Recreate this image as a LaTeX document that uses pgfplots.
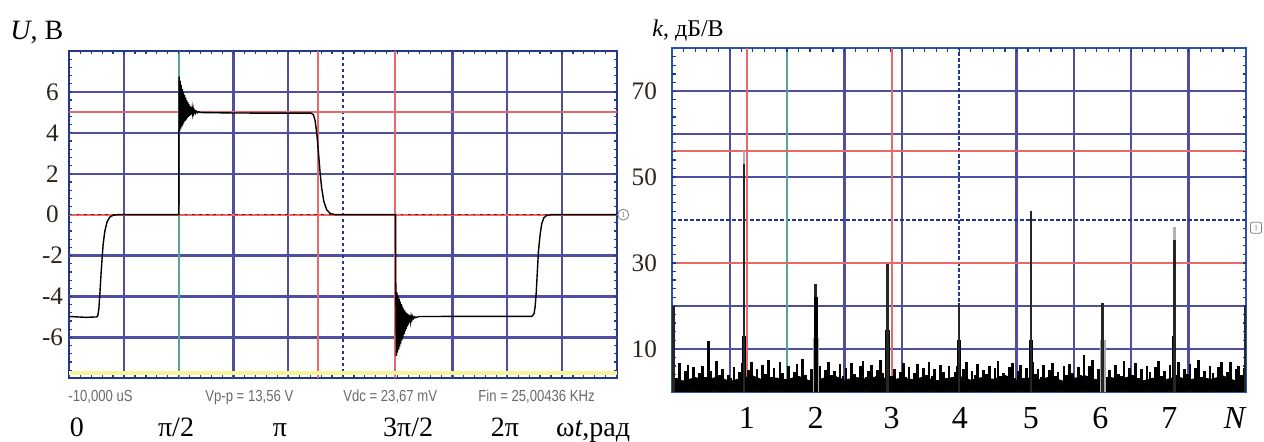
\documentclass[border=0pt]{standalone}
\usepackage{fontspec}
\setmainfont{Liberation Serif}
\newfontfamily\scopefont{Liberation Sans}
\usepackage{graphicx}
\usepackage{pgfplots}
\pgfplotsset{compat=1.18}

\definecolor{gridblue}{RGB}{78,78,162}
\definecolor{gridred}{RGB}{232,105,105}
\definecolor{gridcyan}{RGB}{85,165,155}
\definecolor{frameblue}{RGB}{35,55,140}
\definecolor{frameblue2}{RGB}{40,85,170}
\definecolor{scopeyellow}{RGB}{246,246,150}
\definecolor{lbl}{RGB}{45,35,25}
\definecolor{scopegray}{RGB}{105,105,105}

\tikzset{
  gb/.style={gridblue, line width=1.15bp},
  gr/.style={gridred, line width=0.9bp},
  gc/.style={gridcyan, line width=0.8bp},
  gd/.style={frameblue, line width=1bp, dash pattern=on 1.6bp off 1.4bp},
  bt/.style={frameblue, line width=0.6bp},
  scopetxt/.style={anchor=base west, inner sep=0pt, text=scopegray, font=\scopefont\fontsize{8bp}{9bp}\selectfont},
}

\begin{document}
\begin{tikzpicture}
\path[use as bounding box] (0,0) rectangle (632bp,221bp);

% ---------------- left panel: waveform ----------------
\begin{axis}[
  scale only axis, anchor=south west, at={(34.65bp,31.85bp)},
  width=273.7bp, height=163.65bp,
  xmin=0, xmax=10, ymin=-8, ymax=8, clip=false,
  axis line style={frameblue, line width=1.1bp},
  major tick length=0pt,
  xtick={0.14,1.95,3.85,6.19,7.96},
  xticklabels={0,π/2,π,3π/2,2π},
  xticklabel style={anchor=base, yshift=-28.85bp, font=\fontsize{14bp}{16bp}\selectfont, text=black},
  ytick={-6,-4,-2,0,2,4,6},
  yticklabel style={anchor=center, xshift=-8.4bp, font=\fontsize{12.6bp}{14bp}\selectfont, text=lbl},
  /pgf/number format/assume math mode=true,
]
% graticule
\pgfplotsinvokeforeach{1,3,4,7,8,9}{\draw[gb] (axis cs:#1,-8) -- (axis cs:#1,8);}
\pgfplotsinvokeforeach{-6,-4,-2,2,4,6}{\draw[gb] (axis cs:0,#1) -- (axis cs:10,#1);}
\draw[gd] (axis cs:5,-8) -- (axis cs:5,8);
\draw[gc] (axis cs:2,-8) -- (axis cs:2,8);
\draw[gr] (axis cs:4.55,-8) -- (axis cs:4.55,8);
\draw[gr] (axis cs:5.95,-8) -- (axis cs:5.95,8);
\draw[gr] (axis cs:0,5) -- (axis cs:10,5);
\draw[gr] (axis cs:0,0) -- (axis cs:10,0);
\draw[red!60!black, line width=0.7bp, dash pattern=on 1.4bp off 2.2bp] (axis cs:0,0) -- (axis cs:10,0);
\draw[scopeyellow, line width=2.2bp] (axis cs:0,-7.75) -- (axis cs:10,-7.75);
\pgfplotsinvokeforeach{0.2,0.4,...,9.8}{\draw[bt] (axis cs:#1,-8) -- (axis cs:#1,-7.84); \draw[bt] (axis cs:#1,8) -- (axis cs:#1,7.84);}
\pgfplotsinvokeforeach{-7.6,-7.2,...,7.6}{\draw[bt] (axis cs:0,#1) -- (axis cs:0.058,#1); \draw[bt] (axis cs:10,#1) -- (axis cs:9.942,#1);}

% trace
\addplot[black, line width=0.7bp] coordinates {
(0,-4.98)(0.3,-5.02)(0.5,-5)(0.52,-4.95)(0.54,-4.6)(0.56,-3.8)(0.58,-2.9)(0.60,-2.1)(0.62,-1.4)(0.65,-0.8)(0.69,-0.35)(0.74,-0.12)(0.80,-0.03)(0.88,0)(2.0,0)
(2.005,6.75)(2.015,4.10)(2.025,6.55)(2.035,4.20)(2.045,6.35)(2.055,4.30)(2.065,6.15)(2.075,4.40)(2.085,6.00)(2.095,4.50)
(2.105,5.85)(2.115,4.58)(2.125,5.72)(2.135,4.65)(2.145,5.60)(2.155,4.72)(2.165,5.50)(2.175,4.78)(2.185,5.40)(2.195,4.83)
(2.205,5.32)(2.215,4.87)(2.225,5.25)(2.235,4.90)(2.245,5.18)(2.255,4.93)(2.265,5.13)(2.275,4.95)(2.290,5.09)(2.305,4.97)
(2.320,5.06)(2.340,4.98)(2.360,5.03)(2.390,5.0)(2.45,4.99)(3.0,4.97)(4.0,4.96)(4.42,4.96)
(4.46,4.88)(4.49,4.6)(4.52,4.0)(4.55,3.1)(4.58,2.1)(4.61,1.3)(4.65,0.65)(4.70,0.25)(4.76,0.07)(4.85,0)(5.96,0)
(5.965,-3.70)(5.975,-6.90)(5.985,-3.80)(5.995,-6.75)(6.005,-3.95)(6.015,-6.60)(6.025,-4.10)(6.035,-6.45)(6.045,-4.25)(6.055,-6.30)
(6.065,-4.38)(6.075,-6.15)(6.085,-4.50)(6.095,-6.00)(6.105,-4.60)(6.115,-5.85)(6.125,-4.68)(6.135,-5.70)(6.145,-4.75)(6.155,-5.58)
(6.165,-4.81)(6.175,-5.47)(6.185,-4.86)(6.195,-5.37)(6.205,-4.90)(6.215,-5.28)(6.225,-4.93)(6.235,-5.20)(6.245,-4.95)(6.26,-5.13)
(6.275,-4.97)(6.29,-5.08)(6.31,-4.99)(6.33,-5.04)(6.36,-5.0)(6.40,-4.98)(7.5,-4.97)(8.45,-4.97)
(8.49,-4.85)(8.51,-4.5)(8.53,-3.8)(8.55,-2.8)(8.57,-1.8)(8.60,-1.0)(8.63,-0.45)(8.67,-0.15)(8.72,-0.04)(8.80,0)(10,0)
};
\node[anchor=base, inner sep=0pt, font=\fontsize{14bp}{16bp}\selectfont] at (axis cs:9.57,-8) [yshift=-28.85bp] {ω\textit{t},рад};
\node[draw=gray, fill=white, circle, inner sep=0pt, minimum size=5.5bp, font=\fontsize{4bp}{4bp}\selectfont, text=gray] at (axis cs:10.12,0) {1};
\end{axis}

% ---------------- right panel: spectrum ----------------
\begin{axis}[
  scale only axis, anchor=south west, at={(336.15bp,25.15bp)},
  width=286.85bp, height=171.7bp,
  xmin=0, xmax=8, ymin=0, ymax=80, clip=false,
  axis line style={frameblue2, line width=1.1bp},
  major tick length=0pt,
  xtick={1.04,2,3.06,4.01,5,5.97,6.93},
  xticklabels={1,2,3,4,5,6,7},
  xticklabel style={anchor=base, yshift=-18.15bp, font=\fontsize{16bp}{18bp}\selectfont, text=black},
  ytick={10,30,50,70},
  yticklabel style={anchor=center, xshift=-14bp, font=\fontsize{12.6bp}{14bp}\selectfont, text=lbl},
  /pgf/number format/assume math mode=true,
]
\pgfplotsinvokeforeach{0.8,2.4,3.2,4.8,5.6,6.4,7.2}{\draw[gb] (axis cs:#1,0) -- (axis cs:#1,80);}
\pgfplotsinvokeforeach{10,20,50,60,70}{\draw[gb] (axis cs:0,#1) -- (axis cs:8,#1);}
\draw[gd] (axis cs:4,0) -- (axis cs:4,80);
\draw[gd] (axis cs:0,40) -- (axis cs:8,40);
\draw[gc] (axis cs:1.6,0) -- (axis cs:1.6,80);
\draw[gr] (axis cs:1.04,0) -- (axis cs:1.04,80);
\draw[gr] (axis cs:3.06,0) -- (axis cs:3.06,80);
\draw[gr] (axis cs:0,30) -- (axis cs:8,30);
\draw[gr] (axis cs:0,56) -- (axis cs:8,56);
\pgfplotsinvokeforeach{0.16,0.32,...,7.84}{\draw[bt] (axis cs:#1,0) -- (axis cs:#1,0.75); \draw[bt] (axis cs:#1,80) -- (axis cs:#1,79.25);}
\pgfplotsinvokeforeach{2,4,...,78}{\draw[bt] (axis cs:0,#1) -- (axis cs:0.045,#1); \draw[bt] (axis cs:8,#1) -- (axis cs:7.955,#1);}

% noise floor: dense lower band
\addplot[fill=black, draw=none] coordinates {
(0,3.0)(0.16,2.6)(0.32,3.4)(0.48,2.8)(0.64,3.6)(0.8,2.5)(0.96,3.2)(1.12,3.8)(1.28,2.7)(1.44,3.3)
(1.6,2.9)(1.76,3.7)(1.92,2.6)(2.08,3.1)(2.24,3.9)(2.4,2.8)(2.56,3.4)(2.72,3.0)(2.88,3.8)(3.04,2.7)
(3.2,3.3)(3.36,2.9)(3.52,3.6)(3.68,2.5)(3.84,3.2)(4.0,3.7)(4.16,2.8)(4.32,3.4)(4.48,3.0)(4.64,3.9)
(4.8,2.7)(4.96,3.3)(5.12,2.9)(5.28,3.6)(5.44,2.6)(5.6,3.2)(5.76,3.8)(5.92,2.8)(6.08,3.5)(6.24,3.0)
(6.4,3.7)(6.56,2.6)(6.72,3.3)(6.88,2.9)(7.04,3.6)(7.2,2.8)(7.36,3.4)(7.52,3.0)(7.68,3.8)(7.84,2.7)(8.0,3.1)
} \closedcycle;
% noise floor: spikes
\addplot[ycomb, black, line width=1.35bp] coordinates {
(0.02,5.5)(0.06,3.2)(0.10,6.8)(0.14,2.5)(0.18,4.9)(0.22,6.3)(0.26,3.0)(0.30,5.7)(0.34,2.2)(0.38,4.4)
(0.42,6.1)(0.46,3.5)(0.50,11.7)(0.54,4.8)(0.58,2.6)(0.62,7.2)(0.66,3.9)(0.70,5.2)(0.74,2.8)(0.78,4.0)
(0.82,3.1)(0.86,5.8)(0.90,2.4)(0.94,4.6)(0.98,6.6)(1.02,3.3)(1.06,5.0)(1.10,7.0)(1.14,3.6)(1.18,5.4)
(1.22,2.9)(1.26,6.2)(1.30,4.1)(1.34,7.3)(1.38,3.4)(1.42,5.6)(1.46,2.7)(1.50,6.9)(1.54,4.3)(1.58,3.0)
(1.62,5.9)(1.66,2.6)(1.70,4.7)(1.74,6.4)(1.78,3.2)(1.82,7.6)(1.86,4.0)(1.90,2.8)(1.94,5.3)(1.98,3.7)
(2.02,4.5)(2.06,6.0)(2.10,2.9)(2.14,5.1)(2.18,7.0)(2.22,3.8)(2.26,4.9)(2.30,2.5)(2.34,6.5)(2.38,3.6)
(2.42,5.5)(2.46,3.0)(2.50,6.8)(2.54,4.2)(2.58,2.7)(2.62,5.9)(2.66,7.1)(2.70,3.5)(2.74,4.8)(2.78,6.2)
(2.82,3.3)(2.86,5.0)(2.90,7.4)(2.94,4.4)(2.98,2.8)(3.02,6.1)(3.06,3.7)(3.10,5.3)(3.14,2.5)(3.18,4.6)
(3.22,6.7)(3.26,3.4)(3.30,5.8)(3.34,2.9)(3.38,4.3)(3.42,6.4)(3.46,3.1)(3.50,5.6)(3.54,4.0)(3.58,7.0)
(3.62,3.6)(3.66,5.2)(3.70,2.7)(3.74,6.3)(3.78,4.5)(3.82,3.2)(3.86,5.9)(3.90,2.8)(3.94,4.7)(3.98,6.0)
(4.02,3.5)(4.06,5.4)(4.10,6.9)(4.14,2.6)(4.18,4.8)(4.22,3.9)(4.26,6.5)(4.30,3.0)(4.34,5.1)(4.38,4.2)
(4.42,6.0)(4.46,2.9)(4.50,5.5)(4.54,7.2)(4.58,3.6)(4.62,4.4)(4.66,2.5)(4.70,5.8)(4.74,6.6)(4.78,3.3)
(4.82,4.9)(4.86,6.3)(4.90,3.1)(4.94,5.6)(4.98,2.7)(5.02,7.0)(5.06,4.1)(5.10,5.3)(5.14,3.4)(5.18,6.2)
(5.22,2.8)(5.26,5.0)(5.30,6.7)(5.34,3.7)(5.38,4.6)(5.42,2.6)(5.46,5.9)(5.50,3.9)(5.54,6.4)(5.58,4.3)
(5.62,3.0)(5.66,5.7)(5.70,4.0)(5.74,8.6)(5.78,3.2)(5.82,6.1)(5.86,7.3)(5.90,2.9)(5.94,5.2)(5.98,4.5)
(6.02,6.8)(6.06,3.4)(6.10,5.1)(6.14,2.7)(6.18,6.3)(6.22,4.2)(6.26,3.6)(6.30,7.1)(6.34,2.9)(6.38,5.5)
(6.42,4.0)(6.46,6.6)(6.50,3.1)(6.54,5.4)(6.58,2.8)(6.62,6.0)(6.66,4.7)(6.70,3.3)(6.74,5.8)(6.78,7.2)
(6.82,3.6)(6.86,4.9)(6.90,2.7)(6.94,6.2)(6.98,5.0)(7.02,3.8)(7.06,6.9)(7.10,2.6)(7.14,5.3)(7.18,4.1)
(7.22,6.4)(7.26,3.0)(7.30,5.6)(7.34,7.5)(7.38,3.5)(7.42,4.8)(7.46,2.9)(7.50,6.1)(7.54,4.4)(7.58,3.2)
(7.62,5.7)(7.66,6.9)(7.70,3.3)(7.74,4.6)(7.78,7.0)(7.82,2.8)(7.86,5.2)(7.90,6.0)(7.94,3.9)(7.98,5.5)
};
% harmonic peaks: wide lower parts
\addplot[ycomb, gray!65, line width=3bp] coordinates {(2,12.5)(6,12)};
\addplot[ycomb, black, line width=2.2bp] coordinates {(1,13)(3,14.4)(4,12)(5,12)(7,13)};
% faint tips
\addplot[ycomb, gray!60, line width=1.3bp] coordinates {(1,56)(7,38.4)};
% main lines
\addplot[ycomb, black!85, line width=1.3bp] coordinates {(0.015,20)(1,53)(2,25)(3,29.7)(4,20.6)(5,42)(6,20.6)(7,35.3)(7.985,20)};
\addplot[ycomb, black, line width=1.8bp] coordinates {(2,22)};

\node[anchor=base, inner sep=0pt, font=\fontsize{16bp}{18bp}\selectfont] at (axis cs:7.85,0) [yshift=-18.15bp] {\textit{N}};
\node[draw=gray, fill=white, rounded corners=1bp, inner sep=0.6bp, minimum size=5.5bp, font=\fontsize{4bp}{4bp}\selectfont, text=gray] at (axis cs:8.14,38.2) {1};
\end{axis}

% ---------------- axis names and scope readouts ----------------
\node[anchor=base west, inner sep=0pt, font=\fontsize{14bp}{16bp}\selectfont] at (5bp,201bp) {\textit{U}, В};
\node[anchor=base west, inner sep=0pt, font=\fontsize{12bp}{14bp}\selectfont] at (326bp,202.5bp) {\textit{k}, дБ/В};

\node[scopetxt] at (34bp,20.5bp) {\scalebox{0.82}[1]{-10,000 uS}};
\node[scopetxt] at (102.5bp,20.5bp) {\scalebox{0.82}[1]{Vp-p = 13,56 V}};
\node[scopetxt] at (171.5bp,20.5bp) {\scalebox{0.82}[1]{Vdc = 23,67 mV}};
\node[scopetxt] at (239bp,20.5bp) {\scalebox{0.82}[1]{Fin = 25,00436 KHz}};
\end{tikzpicture}
\end{document}
